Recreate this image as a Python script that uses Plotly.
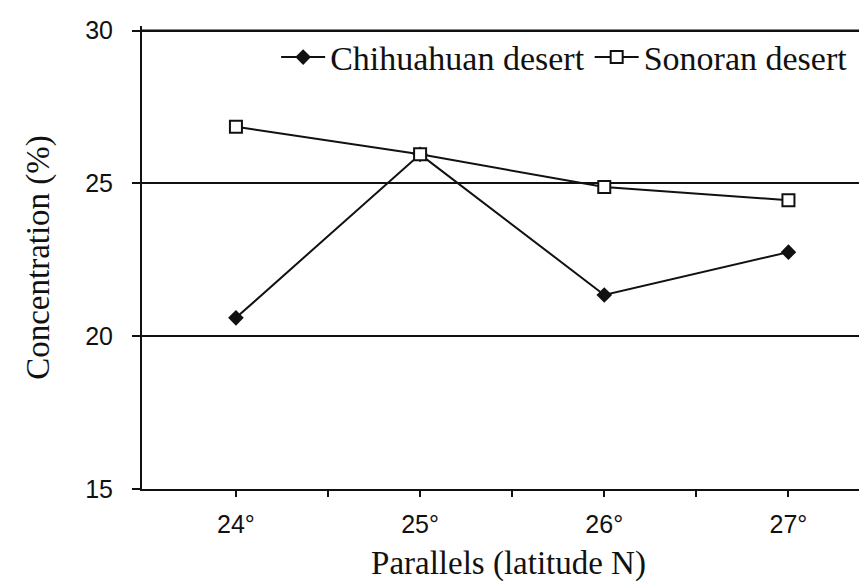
import plotly.graph_objects as go

latitudes = [24, 25, 26, 27]
chihuahuan = [20.6, 25.95, 21.35, 22.75]
sonoran = [26.85, 25.95, 24.88, 24.45]
tick_vals_x = [24, 24.5, 25, 25.5, 26, 26.5, 27]
tick_text_x = ["24°", "", "25°", "", "26°", "", "27°"]
tick_vals_y = [15, 20, 25, 30]

ink = "#111111"
serif = "Liberation Serif, Times New Roman, serif"
sans = "Liberation Sans, Arial, sans-serif"

fig = go.Figure()
fig.add_trace(go.Scatter(
    x=latitudes, y=chihuahuan, name="Chihuahuan desert", mode="lines+markers",
    line=dict(color=ink, width=2),
    marker=dict(symbol="diamond", size=12, color=ink),
))
fig.add_trace(go.Scatter(
    x=latitudes, y=sonoran, name="Sonoran desert", mode="lines+markers",
    line=dict(color=ink, width=2),
    marker=dict(symbol="square", size=12, color="white", line=dict(color=ink, width=2)),
))

# top gridline at the maximum tick, drawn explicitly
fig.add_shape(type="line", xref="paper", x0=0, x1=1, yref="y",
              y0=tick_vals_y[-1], y1=tick_vals_y[-1],
              line=dict(color=ink, width=2), layer="above")

fig.update_layout(
    width=867, height=588,
    margin=dict(l=134, r=0, t=18, b=107),
    paper_bgcolor="white", plot_bgcolor="white",
    showlegend=True,
    legend=dict(orientation="h", x=0.183, xanchor="left", y=0.932, yanchor="middle",
                font=dict(family=serif, size=34, color=ink),
                bgcolor="rgba(0,0,0,0)", itemwidth=44, tracegroupgap=0),
    xaxis=dict(range=[23.49, 27.47], tickmode="array", tickvals=tick_vals_x,
               ticktext=tick_text_x, ticks="outside", ticklen=6, tickwidth=2,
               tickcolor=ink, showline=True, linecolor=ink, linewidth=2,
               showgrid=False, zeroline=False, ticklabelstandoff=6,
               tickfont=dict(family=sans, size=25, color=ink),
               title=dict(text="Parallels (latitude N)", standoff=14,
                          font=dict(family=serif, size=33, color=ink))),
    yaxis=dict(range=[15, 30.15], tickmode="array", tickvals=tick_vals_y,
               ticks="outside", ticklen=8, tickwidth=2, tickcolor=ink,
               showline=True, linecolor=ink, linewidth=2,
               showgrid=True, gridcolor=ink, gridwidth=2, zeroline=False,
               ticklabelstandoff=14,
               tickfont=dict(family=sans, size=25, color=ink),
               title=dict(text="Concentration (%)", standoff=26,
                          font=dict(family=serif, size=33, color=ink))),
)

fig.write_html("out.html")
